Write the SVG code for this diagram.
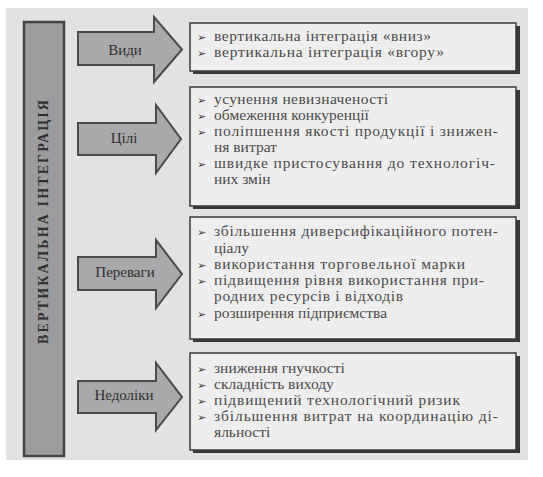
<svg xmlns="http://www.w3.org/2000/svg" width="543" height="477" viewBox="0 0 543 477">
<style>
.bg{fill:#e2e1e4}
.bar{fill:#9c9c9e;stroke:#444;stroke-width:2.5}
.arr{fill:#a9a9ab;stroke:#4a4a4a;stroke-width:2;stroke-linejoin:miter}
.box{fill:#eeeeef;stroke:#3a3a3a;stroke-width:1.5}
.sh{fill:#383838}
.lbl{font-family:"Liberation Serif","Times New Roman",serif;font-size:15px;fill:#2f2f2f;text-anchor:middle}
.t{font-family:"Liberation Serif","Times New Roman",serif;font-size:15.5px;fill:#4a4a4a}
.b{font-family:"DejaVu Sans",sans-serif;font-size:11px;fill:#3a3a3a}
.vt{font-family:"Liberation Serif","Times New Roman",serif;font-size:14px;fill:#2e2e2e;font-weight:bold;text-anchor:middle}
</style>
<rect class="bg" x="6" y="8" width="522" height="452"/>
<g id="main">
<rect class="bar" x="24" y="22" width="40" height="434"/>
<text class="vt" transform="translate(48,222) rotate(-90)" textLength="244" lengthAdjust="spacing">ВЕРТИКАЛЬНА ІНТЕГРАЦІЯ</text>
</g>
<g id="connectors">
<path class="arr" d="M78,32 H154 V17 L182,49.5 L154,82 V65 H78 Z"/>
<path class="arr" d="M78,123 H156 V105 L181,139 L156,173 V155 H78 Z"/>
<path class="arr" d="M78,257 H156 V240 L182,274 L156,308 V290 H78 Z"/>
<path class="arr" d="M78,381 H156 V363 L182,397 L156,430 V413 H78 Z"/>
</g>
<g id="vydy">
<text class="lbl" x="125" y="55">Види</text>
</g>
<g id="tsili">
<text class="lbl" x="124" y="143">Цілі</text>
</g>
<g id="perevagy">
<text class="lbl" x="125" y="277">Переваги</text>
</g>
<g id="nedoliky">
<text class="lbl" x="124" y="400">Недоліки</text>
</g>
<g id="box1">
<rect class="sh" x="193" y="26" width="327" height="48"/>
<rect class="box" x="190" y="23" width="326" height="48"/>
<text class="b" x="197" y="41">➢</text><text class="t" x="214" y="41" textLength="217" lengthAdjust="spacing">вертикальна інтеграція «вниз»</text>
<text class="b" x="197" y="57">➢</text><text class="t" x="214" y="57" textLength="230" lengthAdjust="spacing">вертикальна інтеграція «вгору»</text>
</g>
<g id="box2">
<rect class="sh" x="193" y="90" width="327" height="119"/>
<rect class="box" x="190" y="87" width="326" height="119"/>
<text class="b" x="197" y="104">➢</text><text class="t" x="214" y="104" textLength="174" lengthAdjust="spacing">усунення невизначеності</text>
<text class="b" x="197" y="120">➢</text><text class="t" x="214" y="120">обмеження конкуренції</text>
<text class="b" x="197" y="136">➢</text><text class="t" x="214" y="136" textLength="284" lengthAdjust="spacing">поліпшення якості продукції і знижен-</text>
<text class="t" x="214" y="152">ня витрат</text>
<text class="b" x="197" y="168">➢</text><text class="t" x="214" y="168" textLength="281" lengthAdjust="spacing">швидке пристосування до технологіч-</text>
<text class="t" x="214" y="184">них змін</text>
</g>
<g id="box3">
<rect class="sh" x="193" y="220" width="327" height="122"/>
<rect class="box" x="190" y="217" width="326" height="122"/>
<text class="b" x="197" y="236">➢</text><text class="t" x="214" y="236" textLength="284" lengthAdjust="spacing">збільшення диверсифікаційного потен-</text>
<text class="t" x="214" y="253">ціалу</text>
<text class="b" x="197" y="269">➢</text><text class="t" x="214" y="269" textLength="251" lengthAdjust="spacing">використання торговельної марки</text>
<text class="b" x="197" y="285">➢</text><text class="t" x="214" y="285" textLength="270" lengthAdjust="spacing">підвищення рівня використання при-</text>
<text class="t" x="214" y="301" textLength="189" lengthAdjust="spacing">родних ресурсів і відходів</text>
<text class="b" x="197" y="318">➢</text><text class="t" x="214" y="318">розширення підприємства</text>
</g>
<g id="box4">
<rect class="sh" x="193" y="356" width="327" height="97"/>
<rect class="box" x="190" y="353" width="326" height="97"/>
<text class="b" x="197" y="373">➢</text><text class="t" x="214" y="373">зниження гнучкості</text>
<text class="b" x="197" y="389">➢</text><text class="t" x="214" y="389">складність виходу</text>
<text class="b" x="197" y="405">➢</text><text class="t" x="214" y="405" textLength="246" lengthAdjust="spacing">підвищений технологічний ризик</text>
<text class="b" x="197" y="421">➢</text><text class="t" x="214" y="421" textLength="284" lengthAdjust="spacing">збільшення витрат на координацію ді-</text>
<text class="t" x="214" y="437">яльності</text>
</g>
</svg>
